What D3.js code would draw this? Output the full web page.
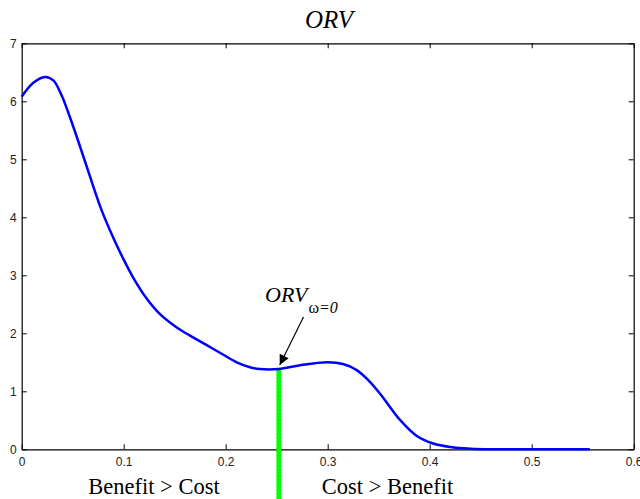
<!DOCTYPE html>
<html>
<head>
<meta charset="utf-8">
<script src="https://cdn.jsdelivr.net/npm/d3@7"></script>
<style>
  body { margin: 0; background: #fff; }
  .tick text { font-family: "Liberation Sans", Arial, sans-serif; font-size: 12px; fill: #222; }
  .serif { font-family: "Liberation Serif", "Times New Roman", serif; fill: #000; }
</style>
</head>
<body>
<svg id="chart" width="640" height="499"></svg>
<script>
// curve
const orvX = [0, 0.0114, 0.0228, 0.031, 0.0392, 0.0474, 0.0572, 0.067, 0.0784, 0.09, 0.1, 0.11,
              0.1225, 0.1356, 0.152, 0.165, 0.181, 0.1977, 0.2108, 0.2238, 0.2336, 0.252, 0.273,
              0.3, 0.315, 0.328, 0.34, 0.351, 0.361, 0.371, 0.387, 0.4035, 0.42, 0.44, 0.46, 0.5, 0.557];
const orvY = [6.08, 6.32, 6.42, 6.36, 6.10, 5.72, 5.22, 4.70, 4.12, 3.64, 3.27, 2.94,
              2.60, 2.33, 2.10, 1.96, 1.80, 1.63, 1.50, 1.415, 1.385, 1.385, 1.45,
              1.50, 1.47, 1.37, 1.19, 0.965, 0.73, 0.505, 0.235, 0.10, 0.04, 0.01, 0.0, 0.0, 0.0];
const xTicks = [0, 0.1, 0.2, 0.3, 0.4, 0.5, 0.6];
const yTicks = [0, 1, 2, 3, 4, 5, 6, 7];
const omegaZeroX = 0.252;
const omegaZeroY = 1.385;
const regionLabels = [
    { x: 0.1297, text: 'Benefit > Cost' },
    { x: 0.3586, text: 'Cost > Benefit' }
];

const svg = d3.select('#chart');
const plotL = 21.7, plotR = 633.7, plotT = 43.3, plotB = 449.3;

const x = d3.scaleLinear().domain([0, 0.6]).range([plotL, plotR]);
const y = d3.scaleLinear().domain([0, 7]).range([plotB, plotT]);

const fmt = d3.format('~g');

// axes, MATLAB style inward ticks on all four sides
svg.append('g').attr('transform', `translate(0,${plotB})`)
    .call(d3.axisBottom(x).tickValues(xTicks).tickFormat(fmt).tickSizeInner(-5).tickSizeOuter(0).tickPadding(8));
svg.append('g').attr('transform', `translate(0,${plotT})`)
    .call(d3.axisTop(x).tickValues(xTicks).tickFormat('').tickSizeInner(-5).tickSizeOuter(0));
svg.append('g').attr('transform', `translate(${plotL},0)`)
    .call(d3.axisLeft(y).tickValues(yTicks).tickFormat(fmt).tickSizeInner(-5).tickSizeOuter(0).tickPadding(5));
svg.append('g').attr('transform', `translate(${plotR},0)`)
    .call(d3.axisRight(y).tickValues(yTicks).tickFormat('').tickSizeInner(-5).tickSizeOuter(0));
svg.selectAll('.domain').attr('stroke', '#000').attr('stroke-width', 1.2);
svg.selectAll('.tick line').attr('stroke', '#000');

// green marker line at omega = 0
svg.append('line')
    .attr('x1', x(omegaZeroX)).attr('x2', x(omegaZeroX))
    .attr('y1', y(omegaZeroY) + 2).attr('y2', 499)
    .attr('stroke', '#00ff00')
    .attr('stroke-width', 5)
    .attr('stroke-linecap', 'round')
    .attr('stroke-dasharray', '0.5,3');

// the curve
const pts = orvX.map((v, i) => [v, orvY[i]]);
svg.append('path')
    .datum(pts)
    .attr('fill', 'none')
    .attr('stroke', '#0000ff')
    .attr('stroke-width', 2.5)
    .attr('d', d3.line().x(d => x(d[0])).y(d => y(Math.max(0, d[1]))).curve(d3.curveCatmullRom.alpha(0.5)));

// title
svg.append('text').attr('class', 'serif')
    .attr('x', 329).attr('y', 28)
    .attr('text-anchor', 'middle')
    .style('font-size', '25px').style('font-style', 'italic')
    .text('ORV');

// annotation
svg.append('defs').append('marker')
    .attr('id', 'head').attr('viewBox', '0 0 10 10')
    .attr('refX', 10).attr('refY', 5)
    .attr('markerWidth', 12).attr('markerHeight', 10)
    .attr('markerUnits', 'userSpaceOnUse')
    .attr('orient', 'auto')
    .append('path').attr('d', 'M0,0L10,5L0,10z').attr('fill', '#000');

svg.append('line')
    .attr('x1', 303.5).attr('y1', 317)
    .attr('x2', x(omegaZeroX) + 1).attr('y2', y(omegaZeroY) - 4)
    .attr('stroke', '#000').attr('stroke-width', 1.2)
    .attr('marker-end', 'url(#head)');

const ann = svg.append('text').attr('class', 'serif')
    .attr('x', 265).attr('y', 302)
    .style('font-size', '22px').style('font-style', 'italic');
ann.append('tspan').text('ORV');
ann.append('tspan').attr('dy', 11).attr('dx', 1).style('font-size', '16px').style('font-style', 'normal').text('ω');
ann.append('tspan').style('font-size', '16px').text('=0');

// region labels
svg.selectAll('.region')
    .data(regionLabels)
    .join('text')
    .attr('class', 'serif region')
    .attr('x', d => x(d.x)).attr('y', 494)
    .attr('text-anchor', 'middle')
    .style('font-size', '22.5px')
    .text(d => d.text);
</script>
</body>
</html>
